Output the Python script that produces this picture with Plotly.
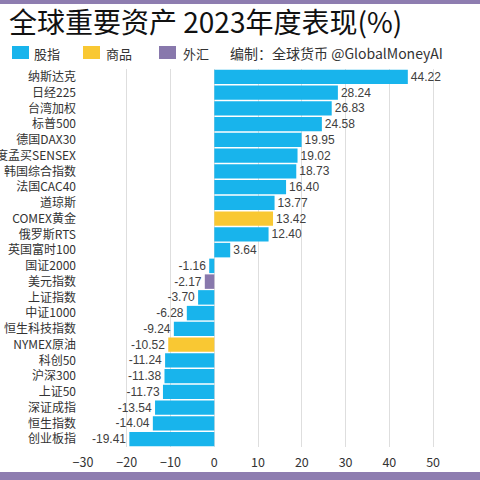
import plotly.graph_objects as go

categories = ["纳斯达克", "日经225", "台湾加权", "标普500", "德国DAX30", "印度孟买SENSEX",
              "韩国综合指数", "法国CAC40", "道琼斯", "COMEX黄金", "俄罗斯RTS", "英国富时100",
              "国证2000", "美元指数", "上证指数", "中证1000", "恒生科技指数", "NYMEX原油",
              "科创50", "沪深300", "上证50", "深证成指", "恒生指数", "创业板指"]
values = [44.22, 28.24, 26.83, 24.58, 19.95, 19.02, 18.73, 16.40, 13.77, 13.42, 12.40, 3.64,
          -1.16, -2.17, -3.70, -6.28, -9.24, -10.52, -11.24, -11.38, -11.73, -13.54, -14.04, -19.41]
kinds = ["股指", "股指", "股指", "股指", "股指", "股指", "股指", "股指", "股指", "商品", "股指", "股指",
         "股指", "外汇", "股指", "股指", "股指", "商品", "股指", "股指", "股指", "股指", "股指", "股指"]
series_names = ["股指", "商品", "外汇"]
series_colors = {"股指": "#18B4EC", "商品": "#F9C833", "外汇": "#8878AC"}
x_ticks = [-30, -20, -10, 0, 10, 20, 30, 40, 50]

W, H = 480, 480
L, R, T, B = 83, 25, 69, 33
PW, PH = W - L - R, H - T - B

def px_x(p):
    return (p - L) / PW

def px_y(p):
    return (H - B - p) / PH

FONT = "Noto Sans CJK SC"
fig = go.Figure()
for s in series_names:
    ys = [c for c, k in zip(categories, kinds) if k == s]
    xs = [v for v, k in zip(values, kinds) if k == s]
    fig.add_trace(go.Bar(
        x=xs, y=ys, orientation="h", name=s,
        marker=dict(color=series_colors[s], line=dict(width=0)),
        text=[f"{v:.2f}" for v in xs], textposition="outside", constraintext="none",
        textfont=dict(family="Liberation Sans", size=12, color="#404040"),
        cliponaxis=False, showlegend=False,
    ))

fig.update_layout(
    width=W, height=H, margin=dict(l=L, r=R, t=T, b=B, autoexpand=False),
    paper_bgcolor="white", plot_bgcolor="white",
    barmode="overlay", bargap=0.08,
    font=dict(family=FONT, size=12, color="#333"),
    xaxis=dict(range=[-30, 55], tickvals=x_ticks, showgrid=True, gridcolor="#dedede",
               gridwidth=1, zeroline=False, showline=False, ticks="",
               ticklabelstandoff=6, automargin=False,
               tickfont=dict(family=FONT, size=12.5, color="#333")),
    yaxis=dict(categoryorder="array", categoryarray=categories[::-1], autorange=False,
               range=[-0.5, len(categories) - 0.5], showgrid=False, zeroline=False,
               showline=False, ticks="", ticklabelstandoff=6, automargin=False,
               tickfont=dict(family=FONT, size=12, color="#333")),
)

shapes = [
    dict(type="rect", xref="paper", yref="paper", x0=px_x(0), x1=px_x(480), y0=px_y(0), y1=px_y(4),
         fillcolor="#8E7DB0", line=dict(width=0)),
    dict(type="rect", xref="paper", yref="paper", x0=px_x(0), x1=px_x(480), y0=px_y(472), y1=px_y(480),
         fillcolor="#8E7DB0", line=dict(width=0)),
]
legend_pos = [(12, 32), (83, 104), (159, 181)]
annotations = [
    dict(text="全球重要资产 2023年度表现(%)", xref="paper", yref="paper", x=px_x(7), y=px_y(21),
         xanchor="left", yanchor="middle", showarrow=False,
         font=dict(family=FONT, size=28, color="#111")),
]
for s, (sx, tx) in zip(series_names, legend_pos):
    shapes.append(dict(type="rect", xref="paper", yref="paper", x0=px_x(sx), x1=px_x(sx + 17),
                       y0=px_y(59), y1=px_y(46), fillcolor=series_colors[s], line=dict(width=0)))
    annotations.append(dict(text=s, xref="paper", yref="paper", x=px_x(tx), y=px_y(53),
                            xanchor="left", yanchor="middle", showarrow=False,
                            font=dict(family=FONT, size=13, color="#333")))
annotations.append(dict(text="编制：全球货币 @GlobalMoneyAI", xref="paper", yref="paper",
                        x=px_x(228), y=px_y(53), xanchor="left", yanchor="middle", showarrow=False,
                        font=dict(family=FONT, size=14, color="#333")))
fig.update_layout(shapes=shapes, annotations=annotations)
fig.write_html("out.html", config={"displayModeBar": False},
               post_script="document.body.style.margin='0';document.body.style.overflow='hidden';")
